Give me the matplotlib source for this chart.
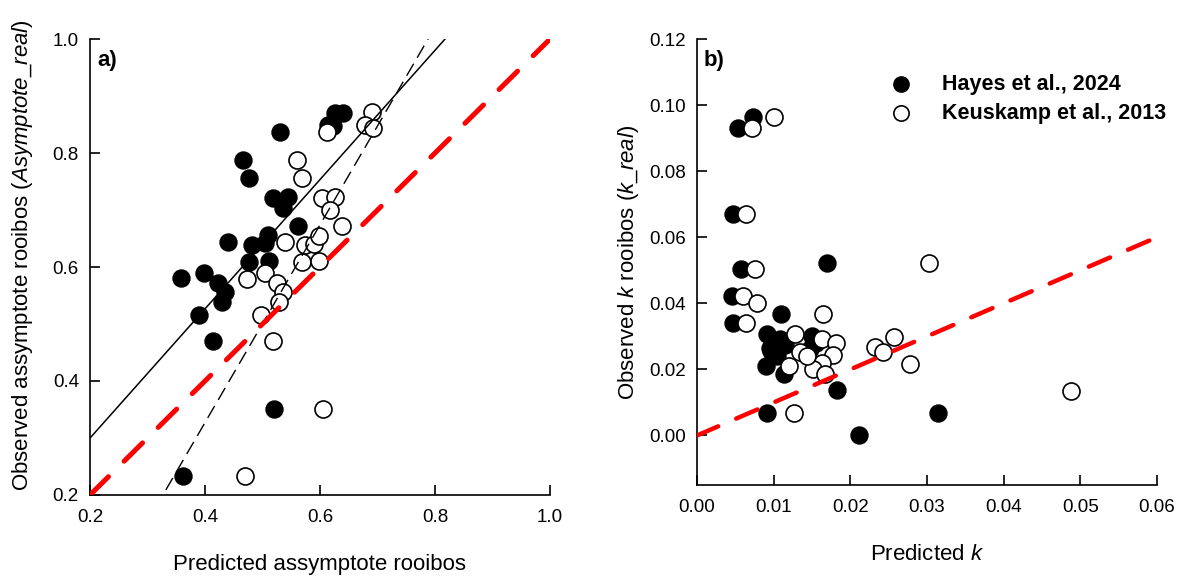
import numpy as np
import matplotlib
matplotlib.use("Agg")
import matplotlib.pyplot as plt

plt.rcParams['font.family'] = ['Liberation Sans', 'DejaVu Sans']
plt.rcParams['mathtext.fontset'] = 'custom'
plt.rcParams['mathtext.rm'] = 'Liberation Sans'
plt.rcParams['mathtext.it'] = 'Liberation Sans:italic'

# panel a: asymptote (predicted, observed)
hayes_a_pred = [0.358, 0.398, 0.390, 0.414, 0.423, 0.435, 0.430, 0.440, 0.477, 0.482,
                0.504, 0.510, 0.511, 0.466, 0.477, 0.518, 0.544, 0.536, 0.562, 0.530,
                0.614, 0.626, 0.640, 0.520, 0.362, 0.623]
hayes_a_obs = [0.581, 0.589, 0.516, 0.470, 0.572, 0.556, 0.539, 0.644, 0.609, 0.639,
               0.642, 0.656, 0.611, 0.788, 0.756, 0.721, 0.723, 0.704, 0.672, 0.837,
               0.849, 0.870, 0.870, 0.351, 0.233, 0.847]
keus_a_pred = [0.473, 0.504, 0.497, 0.518, 0.525, 0.536, 0.529, 0.539, 0.569, 0.574,
               0.590, 0.598, 0.598, 0.560, 0.569, 0.603, 0.626, 0.617, 0.638, 0.690,
               0.678, 0.692, 0.612, 0.605, 0.470]
keus_a_obs = [0.579, 0.589, 0.516, 0.470, 0.572, 0.556, 0.539, 0.644, 0.609, 0.639,
              0.640, 0.654, 0.611, 0.788, 0.756, 0.721, 0.723, 0.700, 0.672, 0.872,
              0.849, 0.844, 0.837, 0.351, 0.233]

# fitted lines in panel a (intercept, slope)
fit_hayes = (0.073, 1.134)
fit_keus = (-0.367, 1.735)

# panel b: decomposition rate k (predicted, observed)
hayes_k_pred = [0.0073, 0.0053, 0.0047, 0.0057, 0.0170, 0.0046, 0.0047, 0.0110, 0.0091, 0.0095,
                0.0090, 0.0113, 0.0104, 0.0108, 0.0150, 0.0147, 0.0183, 0.0091, 0.0211, 0.0314,
                0.0097, 0.0115, 0.0155]
hayes_k_obs = [0.0963, 0.0932, 0.0671, 0.0504, 0.0522, 0.0422, 0.0340, 0.0367, 0.0306, 0.0264,
               0.0209, 0.0185, 0.0240, 0.0291, 0.0300, 0.0261, 0.0139, 0.0069, 0.0002, 0.0069,
               0.0255, 0.0275, 0.0280]
keus_k_pred = [0.0100, 0.0072, 0.0064, 0.0076, 0.0303, 0.0060, 0.0078, 0.0064, 0.0164, 0.0128,
               0.0134, 0.0120, 0.0163, 0.0181, 0.0177, 0.0163, 0.0151, 0.0167, 0.0143, 0.0127,
               0.0232, 0.0243, 0.0257, 0.0278, 0.0488]
keus_k_obs = [0.0963, 0.0932, 0.0671, 0.0504, 0.0522, 0.0422, 0.0401, 0.0340, 0.0367, 0.0306,
              0.0252, 0.0209, 0.0291, 0.0279, 0.0245, 0.0218, 0.0200, 0.0185, 0.0240, 0.0069,
              0.0267, 0.0252, 0.0297, 0.0215, 0.0136]

legend_labels = ["Hayes et al., 2024", "Keuskamp et al., 2013"]

MS = 150
RED_DASH = (5.2, 4.4)
LABEL_FS = 16


def style_axis(ax):
    ax.spines['top'].set_visible(False)
    ax.spines['right'].set_visible(False)
    for s in ['left', 'bottom']:
        ax.spines[s].set_linewidth(1.2)
    ax.tick_params(direction='in', length=7, width=1.2, labelsize=13.5)
    ax.tick_params(axis='x', pad=10)
    ax.tick_params(axis='y', pad=8)


def panel_a(ax):
    ax.scatter(hayes_a_pred, hayes_a_obs, s=MS, c='black', edgecolors='black', zorder=2)
    ax.scatter(keus_a_pred, keus_a_obs, s=MS, c='white', edgecolors='black',
               linewidths=1.2, zorder=3)
    x = np.array([0.2, 1.0])
    ax.plot(x, fit_hayes[0] + fit_hayes[1] * x, color='black', lw=1.1, zorder=4)
    ax.plot(x, fit_keus[0] + fit_keus[1] * x, color='black', lw=1.0,
            dashes=(10, 5), zorder=4)
    ax.plot(x, x, color='red', lw=3.6, dashes=RED_DASH, dash_capstyle='round', zorder=5)
    ax.set_xlim(0.2, 1.0)
    ax.set_ylim(0.2, 1.0)
    ax.set_xticks(np.arange(0.2, 1.01, 0.2))
    ax.set_yticks(np.arange(0.2, 1.01, 0.2))
    ax.set_xticklabels(["0.2", "0.4", "0.6", "0.8", "1.0"])
    ax.set_yticklabels(["0.2", "0.4", "0.6", "0.8", "1.0"])
    ax.set_xlabel("Predicted assymptote rooibos", fontsize=LABEL_FS, labelpad=20)
    ax.set_ylabel(r"Observed assymptote rooibos ($\it{Asymptote\_real}$)",
                  fontsize=LABEL_FS, labelpad=6)
    ax.yaxis.set_label_coords(-0.12, 0.525)
    ax.text(0.015, 0.975, "a)", transform=ax.transAxes, fontsize=16, fontweight='bold',
            va='top', ha='left')
    style_axis(ax)


def panel_b(ax):
    ax.scatter(hayes_k_pred, hayes_k_obs, s=MS, c='black', edgecolors='black', zorder=2,
               label=legend_labels[0])
    ax.scatter(keus_k_pred, keus_k_obs, s=MS, c='white', edgecolors='black',
               linewidths=1.2, zorder=3, label=legend_labels[1])
    x = np.array([0.0, 0.06])
    ax.plot(x, x, color='red', lw=3.2, dashes=RED_DASH, dash_capstyle='round', zorder=5)
    ax.set_xlim(0, 0.06)
    ax.set_ylim(-0.015, 0.12)
    ax.set_xticks(np.arange(0, 0.0601, 0.01))
    ax.set_yticks(np.arange(0, 0.1201, 0.02))
    ax.set_xticklabels(["%.2f" % v for v in np.arange(0, 0.0601, 0.01)])
    ax.set_yticklabels(["%.2f" % v for v in np.arange(0, 0.1201, 0.02)])
    ax.set_xlabel(r"Predicted $\it{k}$", fontsize=LABEL_FS, labelpad=20)
    ax.set_ylabel(r"Observed $\it{k}$ rooibos ($\it{k\_real}$)", fontsize=LABEL_FS, labelpad=6)
    ax.text(0.015, 0.975, "b)", transform=ax.transAxes, fontsize=16, fontweight='bold',
            va='top', ha='left')
    ax.legend(loc='upper left', bbox_to_anchor=(0.355, 0.965), frameon=False,
              markerscale=0.9, handletextpad=0.9, labelspacing=0.35,
              prop={'weight': 'bold', 'size': 15.5})
    style_axis(ax)


def main():
    fig = plt.figure(figsize=(11.81, 5.79), dpi=100)
    ax1 = fig.add_axes([0.0762, 0.1451, 0.3895, 0.7875])
    ax2 = fig.add_axes([0.5902, 0.1623, 0.3895, 0.7703])
    panel_a(ax1)
    panel_b(ax2)
    fig.savefig("out.png", dpi=100)

main()
